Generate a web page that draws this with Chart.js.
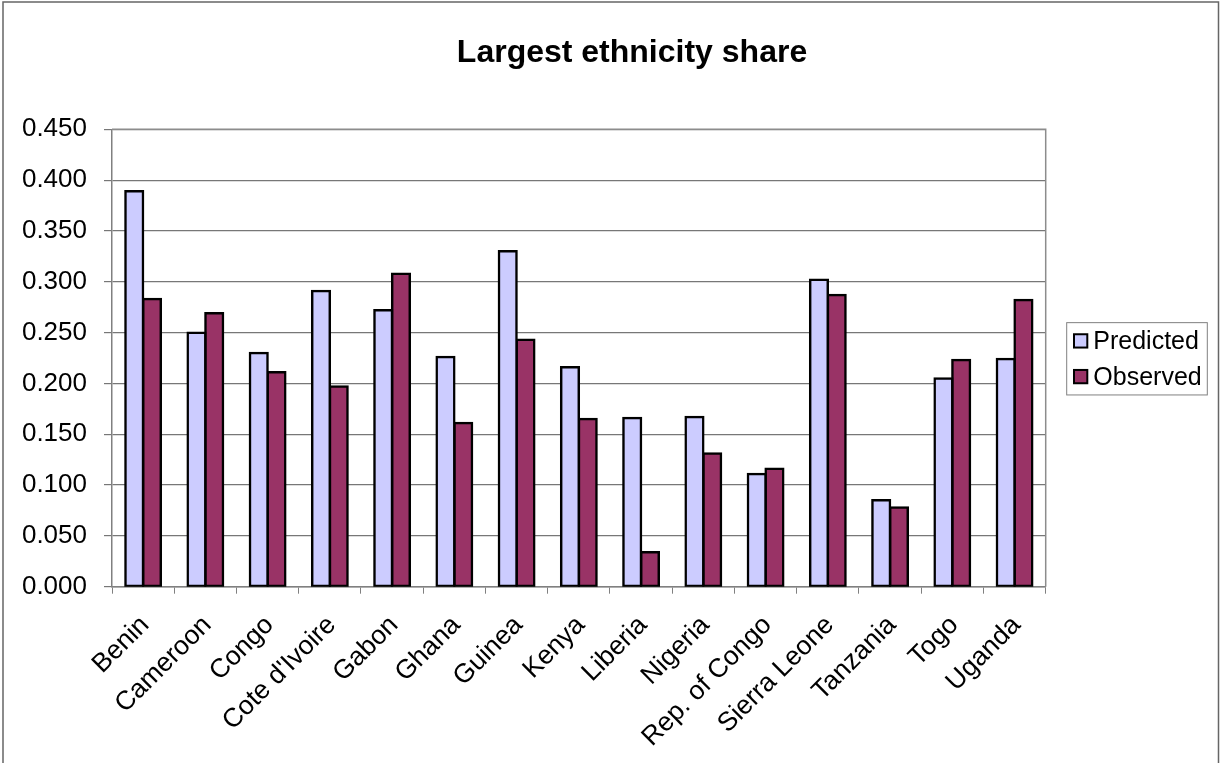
<!DOCTYPE html>
<html lang="en">
<head>
    <meta charset="UTF-8">
    <title>Largest ethnicity share</title>
    <style>
        html, body { margin: 0; padding: 0; background: #ffffff; }
        #wrap { width: 1220px; height: 763px; }
    </style>
</head>
<body>
    <div id="wrap"><canvas id="myChart"></canvas></div>

    <script src="https://cdn.jsdelivr.net/npm/chart.js@4.4.1/dist/chart.umd.min.js"></script>
    <script>
        // data
        const chartTitle = 'Largest ethnicity share';
        const countries = ['Benin', 'Cameroon', 'Congo', "Cote d'Ivoire", 'Gabon', 'Ghana', 'Guinea', 'Kenya',
            'Liberia', 'Nigeria', 'Rep. of Congo', 'Sierra Leone', 'Tanzania', 'Togo', 'Uganda'];
        const predicted = [0.389, 0.250, 0.230, 0.291, 0.272, 0.226, 0.330, 0.216, 0.166, 0.167, 0.111, 0.302, 0.085, 0.205, 0.224];
        const observed = [0.283, 0.269, 0.211, 0.197, 0.308, 0.161, 0.243, 0.165, 0.034, 0.131, 0.116, 0.287, 0.078, 0.223, 0.282];

        const FONT = '"Liberation Sans", Arial, sans-serif';

        // frame, plot border, title and boxed legend (Excel look)
        const excelFrame = {
            id: 'excelFrame',
            beforeDraw(chart) {
                const { ctx, width, height } = chart;
                ctx.save();
                ctx.fillStyle = '#ffffff';
                ctx.fillRect(0, 0, width, height);
                ctx.restore();
            },
            afterDraw(chart) {
                const { ctx, chartArea: a, width, height } = chart;
                ctx.save();
                // outer frame
                ctx.strokeStyle = '#666666';
                ctx.lineWidth = 1.5;
                ctx.beginPath();
                ctx.moveTo(3, height); ctx.lineTo(3, 2); ctx.lineTo(width - 1.5, 2); ctx.lineTo(width - 1.5, height);
                ctx.stroke();
                // plot area top/right border
                ctx.strokeStyle = '#8c8c8c';
                ctx.lineWidth = 1.5;
                ctx.beginPath();
                ctx.moveTo(a.left, a.top); ctx.lineTo(a.right, a.top); ctx.lineTo(a.right, a.bottom);
                ctx.stroke();
                // title
                ctx.fillStyle = '#000000';
                ctx.font = 'bold 32px ' + FONT;
                ctx.textAlign = 'center';
                ctx.textBaseline = 'alphabetic';
                ctx.fillText(chartTitle, 632, 62);
                // legend
                const w = 140.6, h = 72.3;
                const x = a.right + 21;
                const y = (a.top + a.bottom) / 2 - h / 2 + 0.8;
                ctx.strokeStyle = '#808080';
                ctx.lineWidth = 1;
                ctx.strokeRect(x, y, w, h);
                ctx.font = '25px ' + FONT;
                ctx.textAlign = 'left';
                ctx.textBaseline = 'middle';
                chart.data.datasets.forEach((ds, i) => {
                    const cy = y + 18.3 + i * 35.7;
                    ctx.fillStyle = ds.backgroundColor;
                    ctx.fillRect(x + 7.3, cy - 6.7, 13.3, 13.3);
                    ctx.strokeStyle = '#000000';
                    ctx.lineWidth = 2;
                    ctx.strokeRect(x + 7.3, cy - 6.7, 13.3, 13.3);
                    ctx.fillStyle = '#000000';
                    ctx.fillText(ds.label, x + 26.6, cy + 1);
                });
                ctx.restore();
            }
        };

        var ctx = document.getElementById('myChart');
        var myChart = new Chart(ctx, {
            type: 'bar',
            data: {
                labels: countries,
                datasets: [{
                    label: 'Predicted',
                    data: predicted,
                    backgroundColor: '#CCCCFF',
                    borderColor: '#000000',
                    borderWidth: 2.5,
                    borderSkipped: false,
                    inflateAmount: 1.2,
                    categoryPercentage: 0.57,
                    barPercentage: 1.0
                }, {
                    label: 'Observed',
                    data: observed,
                    backgroundColor: '#993366',
                    borderColor: '#000000',
                    borderWidth: 2.5,
                    borderSkipped: false,
                    inflateAmount: 1.2,
                    categoryPercentage: 0.57,
                    barPercentage: 1.0
                }]
            },
            options: {
                responsive: true,
                maintainAspectRatio: false,
                animation: false,
                devicePixelRatio: 1,
                layout: { padding: { top: 129.3, left: 0, right: 174.3, bottom: 0 } },
                plugins: {
                    legend: { display: false },
                    title: { display: false },
                    tooltip: { enabled: false }
                },
                scales: {
                    x: {
                        grid: {
                            offset: true,
                            drawOnChartArea: false,
                            color: '#808080',
                            tickLength: 7
                        },
                        border: { color: '#808080', width: 1.5 },
                        ticks: {
                            color: '#000000',
                            font: { family: FONT, size: 26.5 },
                            minRotation: 45,
                            maxRotation: 45,
                            autoSkip: false,
                            padding: 16,
                            labelOffset: 2
                        },
                        afterFit(scale) { scale.height = 176.3; }
                    },
                    y: {
                        min: 0,
                        max: 0.45,
                        ticks: {
                            stepSize: 0.05,
                            color: '#000000',
                            font: { family: FONT, size: 26 },
                            padding: 17,
                            callback: v => Number(v).toFixed(3)
                        },
                        grid: { color: '#777777', lineWidth: 1.2, tickLength: 8 },
                        border: { color: '#808080', width: 1.5 },
                        afterFit(scale) { scale.width = 112; }
                    }
                }
            },
            plugins: [excelFrame]
        });
    </script>
</body>
</html>
